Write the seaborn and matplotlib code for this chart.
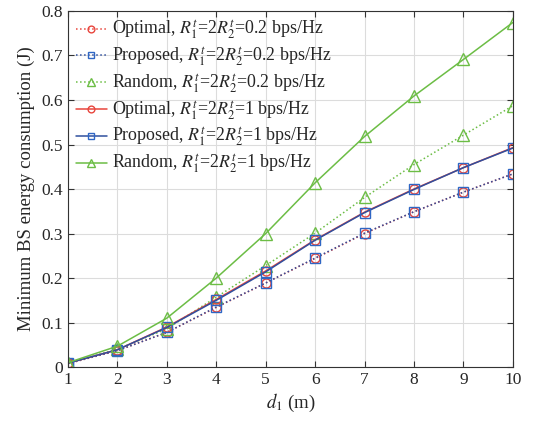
import numpy as np
import pandas as pd
import matplotlib
matplotlib.use('Agg')
import matplotlib.pyplot as plt
import seaborn as sns

d1 = [1, 2, 3, 4, 5, 6, 7, 8, 9, 10]

# rate 0.2 bps/Hz
optimal_02 = [0.008, 0.037, 0.078, 0.134, 0.189, 0.244, 0.300, 0.349, 0.393, 0.434]
proposed_02 = [0.008, 0.037, 0.078, 0.135, 0.189, 0.245, 0.301, 0.349, 0.393, 0.434]
random_02 = [0.009, 0.040, 0.086, 0.157, 0.228, 0.301, 0.381, 0.455, 0.521, 0.587]
# rate 1 bps/Hz
optimal_1 = [0.009, 0.039, 0.090, 0.152, 0.216, 0.286, 0.348, 0.400, 0.448, 0.493]
proposed_1 = [0.009, 0.039, 0.089, 0.150, 0.214, 0.285, 0.347, 0.399, 0.448, 0.492]
random_1 = [0.010, 0.047, 0.110, 0.200, 0.300, 0.414, 0.518, 0.609, 0.691, 0.774]

red = '#e8453c'
blue = '#2f4f9e'
blue_mk = '#2f66c4'
green = '#6cbd45'

sns.set_style('ticks')
plt.rcParams['font.family'] = ['Liberation Serif', 'DejaVu Serif']
plt.rcParams['mathtext.fontset'] = 'stix'

fig = plt.figure(figsize=(5.37, 4.21), dpi=100)
ax = fig.add_axes([0.1266, 0.128, 0.8284, 0.846])

r02 = r'$R_1^t$=2$R_2^t$=0.2 bps/Hz'
r1 = r'$R_1^t$=2$R_2^t$=1 bps/Hz'

series = [
    (optimal_02, 'Optimal, ' + r02, red, red, 'o', ':'),
    (proposed_02, 'Proposed, ' + r02, blue, blue_mk, 's', ':'),
    (random_02, 'Random, ' + r02, green, green, '^', ':'),
    (optimal_1, 'Optimal, ' + r1, red, red, 'o', '-'),
    (proposed_1, 'Proposed, ' + r1, blue, blue_mk, 's', '-'),
    (random_1, 'Random, ' + r1, green, green, '^', '-'),
]

for vals, label, lc, mc, mk, ls in series:
    df = pd.DataFrame({'d1': d1, 'E': vals})
    sns.lineplot(data=df, x='d1', y='E', ax=ax, color=lc, linestyle=ls,
                 linewidth=1.1, marker=mk, markersize=6.5 if mk != '^' else 8,
                 markerfacecolor='none', markeredgecolor=mc, markeredgewidth=1.0,
                 label=label)

ax.set_xlim(1, 10)
ax.set_ylim(0, 0.8)
ax.set_xticks(d1)
ax.set_yticks(np.arange(0, 0.81, 0.1))
ax.set_yticklabels(['0'] + ['%.1f' % v for v in np.arange(0.1, 0.81, 0.1)])
ax.grid(True, color='#dcdcdc', linewidth=0.8)
ax.tick_params(direction='in', top=True, right=True, labelsize=12.5, length=4, color='#333333')
for s in ax.spines.values():
    s.set_linewidth(0.8)
    s.set_color('#333333')

ax.set_xlabel(r'$d_1$ (m)', fontsize=13.5, labelpad=3)
ax.set_ylabel('Minimum BS energy consumption (J)', fontsize=13.5, labelpad=5)

leg = ax.legend(loc='upper left', fontsize=12.9, frameon=False, handlelength=1.7,
                handletextpad=0.3, labelspacing=0.2, borderaxespad=0.2,
                borderpad=0.25, markerscale=0.75)

fig.savefig('out.png', dpi=100)
